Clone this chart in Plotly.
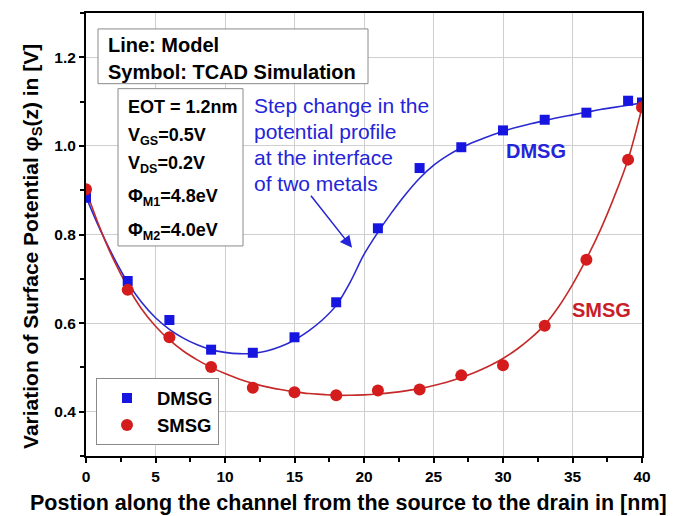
import plotly.graph_objects as go

# TCAD simulation points
x_tcad = [0, 3, 6, 9, 12, 15, 18, 21, 24, 27, 30, 33, 36, 39, 40]
dmsg_tcad = [0.883, 0.695, 0.607, 0.540, 0.533, 0.568, 0.647, 0.814, 0.950, 0.997, 1.035, 1.059, 1.075, 1.102, 1.098]
smsg_tcad = [0.902, 0.675, 0.568, 0.501, 0.454, 0.444, 0.437, 0.448, 0.450, 0.482, 0.505, 0.594, 0.743, 0.969, 1.087]

# Model curves (every 1 nm)
x_model = list(range(0, 41))
dmsg_model = [0.885, 0.812, 0.748, 0.692, 0.647, 0.612, 0.586, 0.566, 0.551, 0.540, 0.534,
              0.531, 0.532, 0.537, 0.547, 0.562, 0.582, 0.607, 0.640, 0.692, 0.755,
              0.805, 0.850, 0.891, 0.927, 0.956, 0.978, 0.996, 1.010, 1.022, 1.033,
              1.042, 1.050, 1.057, 1.064, 1.070, 1.076, 1.082, 1.087, 1.092, 1.097]
smsg_model = [0.900, 0.815, 0.742, 0.682, 0.632, 0.593, 0.562, 0.537, 0.517, 0.500, 0.486,
              0.474, 0.464, 0.456, 0.450, 0.445, 0.441, 0.439, 0.437, 0.437, 0.438,
              0.440, 0.443, 0.447, 0.452, 0.459, 0.467, 0.477, 0.489, 0.503, 0.520,
              0.541, 0.566, 0.596, 0.637, 0.687, 0.745, 0.810, 0.885, 0.970, 1.087]

x_ticks = [0, 5, 10, 15, 20, 25, 30, 35, 40]
y_ticks = [0.4, 0.6, 0.8, 1.0, 1.2]

box1_lines = ["Line: Model", "Symbol: TCAD Simulation"]
box2_lines = ["EOT = 1.2nm", "V<sub>GS</sub>=0.5V", "V<sub>DS</sub>=0.2V",
              "Φ<sub>M1</sub>=4.8eV", "Φ<sub>M2</sub>=4.0eV"]
note_lines = ["Step change in the", "potential profile", "at the interface", "of two metals"]

FONT = "Liberation Sans, Arial, sans-serif"
BLUE_M = "#1616e0"
BLUE_L = "#2a2ad0"
RED_M = "#d41c1c"
RED_L = "#c42a2a"
TXT_BLUE = "#2424d8"

fig = go.Figure()
fig.add_trace(go.Scatter(x=x_model, y=dmsg_model, mode="lines", line=dict(color=BLUE_L, width=1.6, shape="spline"),
                         showlegend=False, hoverinfo="skip"))
fig.add_trace(go.Scatter(x=x_model, y=smsg_model, mode="lines", line=dict(color=RED_L, width=1.6, shape="spline"),
                         showlegend=False, hoverinfo="skip"))
fig.add_trace(go.Scatter(x=x_tcad, y=dmsg_tcad, mode="markers", name="DMSG",
                         marker=dict(symbol="square", size=10, color=BLUE_M)))
fig.add_trace(go.Scatter(x=x_tcad, y=smsg_tcad, mode="markers", name="SMSG",
                         marker=dict(symbol="circle", size=12, color=RED_M)))

# plot area in pixels: x 86..642, y 11..456
L, R, T, B = 86, 642, 11, 456
def px(xp):
    return (xp - L) / (R - L)
def py(yp):
    return (B - yp) / (B - T)

axis_common = dict(showline=True, linecolor="black", linewidth=2, mirror=True,
                   showgrid=True, gridcolor="#cfcfcf", gridwidth=1, zeroline=False,
                   ticks="outside", ticklen=5, tickwidth=2, tickcolor="black",
                   tickfont=dict(family=FONT, size=15.5, color="black", weight="bold"))

fig.update_xaxes(range=[0, 40], tickvals=x_ticks, ticktext=[str(v) for v in x_ticks],
                 minor=dict(ticks="outside", ticklen=4, tickwidth=2, tickcolor="black", dtick=2.5, showgrid=False),
                 **axis_common)
fig.update_yaxes(range=[0.3, 1.3], tickvals=y_ticks, ticktext=[f"{v:.1f}" for v in y_ticks],
                 minor=dict(ticks="outside", ticklen=4, tickwidth=2, tickcolor="black", dtick=0.1, tick0=0.3, showgrid=False),
                 **axis_common)

annotations = [
    # axis titles
    dict(text="Postion along the channel from the source to the drain in [nm]", xref="paper", yref="paper",
         x=px(348), y=py(503), xanchor="center", yanchor="middle", showarrow=False,
         font=dict(family=FONT, size=21.5, color="black", weight="bold")),
    dict(text="Variation of Surface Potential φ<sub>S</sub>(z) in [V]", xref="paper", yref="paper",
         x=px(32), y=py(246), xanchor="center", yanchor="middle", showarrow=False, textangle=-90,
         font=dict(family=FONT, size=21, color="black", weight="bold")),
    # arrow
    dict(text="", x=19.14, y=0.770, ax=16.1, ay=0.891, xref="x", yref="y", axref="x", ayref="y",
         showarrow=True, arrowhead=2, arrowsize=1.6, arrowwidth=1.5, arrowcolor=TXT_BLUE),
    # curve labels
    dict(text="DMSG", x=32.4, y=0.988, xref="x", yref="y", showarrow=False,
         font=dict(family=FONT, size=20, color=TXT_BLUE, weight="bold")),
    dict(text="SMSG", x=37.1, y=0.630, xref="x", yref="y", showarrow=False,
         font=dict(family=FONT, size=20, color="#c8202a", weight="bold")),
]

# info box 1 lines
for txt, yc in zip(box1_lines, [43, 70]):
    annotations.append(dict(text=txt, xref="paper", yref="paper", x=px(106), y=py(yc),
                            xanchor="left", yanchor="middle", showarrow=False,
                            font=dict(family=FONT, size=20, color="black", weight="bold")))
# info box 2 lines
for txt, yc in zip(box2_lines, [105, 135, 163, 196, 230]):
    annotations.append(dict(text=txt, xref="paper", yref="paper", x=px(126), y=py(yc),
                            xanchor="left", yanchor="middle", showarrow=False,
                            font=dict(family=FONT, size=18, color="black", weight="bold")))
# blue note lines
for txt, yc in zip(note_lines, [104, 130, 156, 182]):
    annotations.append(dict(text=txt, xref="paper", yref="paper", x=px(252), y=py(yc),
                            xanchor="left", yanchor="middle", showarrow=False,
                            font=dict(family=FONT, size=21, color=TXT_BLUE)))

shapes = [
    dict(type="rect", xref="paper", yref="paper", x0=px(98), x1=px(368), y0=py(82), y1=py(27),
         line=dict(color="#8a8a8a", width=1), fillcolor="white", layer="above"),
    dict(type="rect", xref="paper", yref="paper", x0=px(118), x1=px(243), y0=py(245), y1=py(87),
         line=dict(color="#8a8a8a", width=1), fillcolor="white", layer="above"),
]

fig.update_layout(
    width=692, height=516,
    margin=dict(l=L, r=692 - R, t=T, b=516 - B),
    paper_bgcolor="white", plot_bgcolor="white",
    font=dict(family=FONT, color="black"),
    annotations=annotations,
    shapes=shapes,
    legend=dict(x=px(96), y=py(378), xanchor="left", yanchor="top",
                bordercolor="#8a8a8a", borderwidth=1, bgcolor="white",
                font=dict(family=FONT, size=18.5, color="black", weight="bold"),
                itemwidth=50, tracegroupgap=0),
)

fig.write_html("out.html")
